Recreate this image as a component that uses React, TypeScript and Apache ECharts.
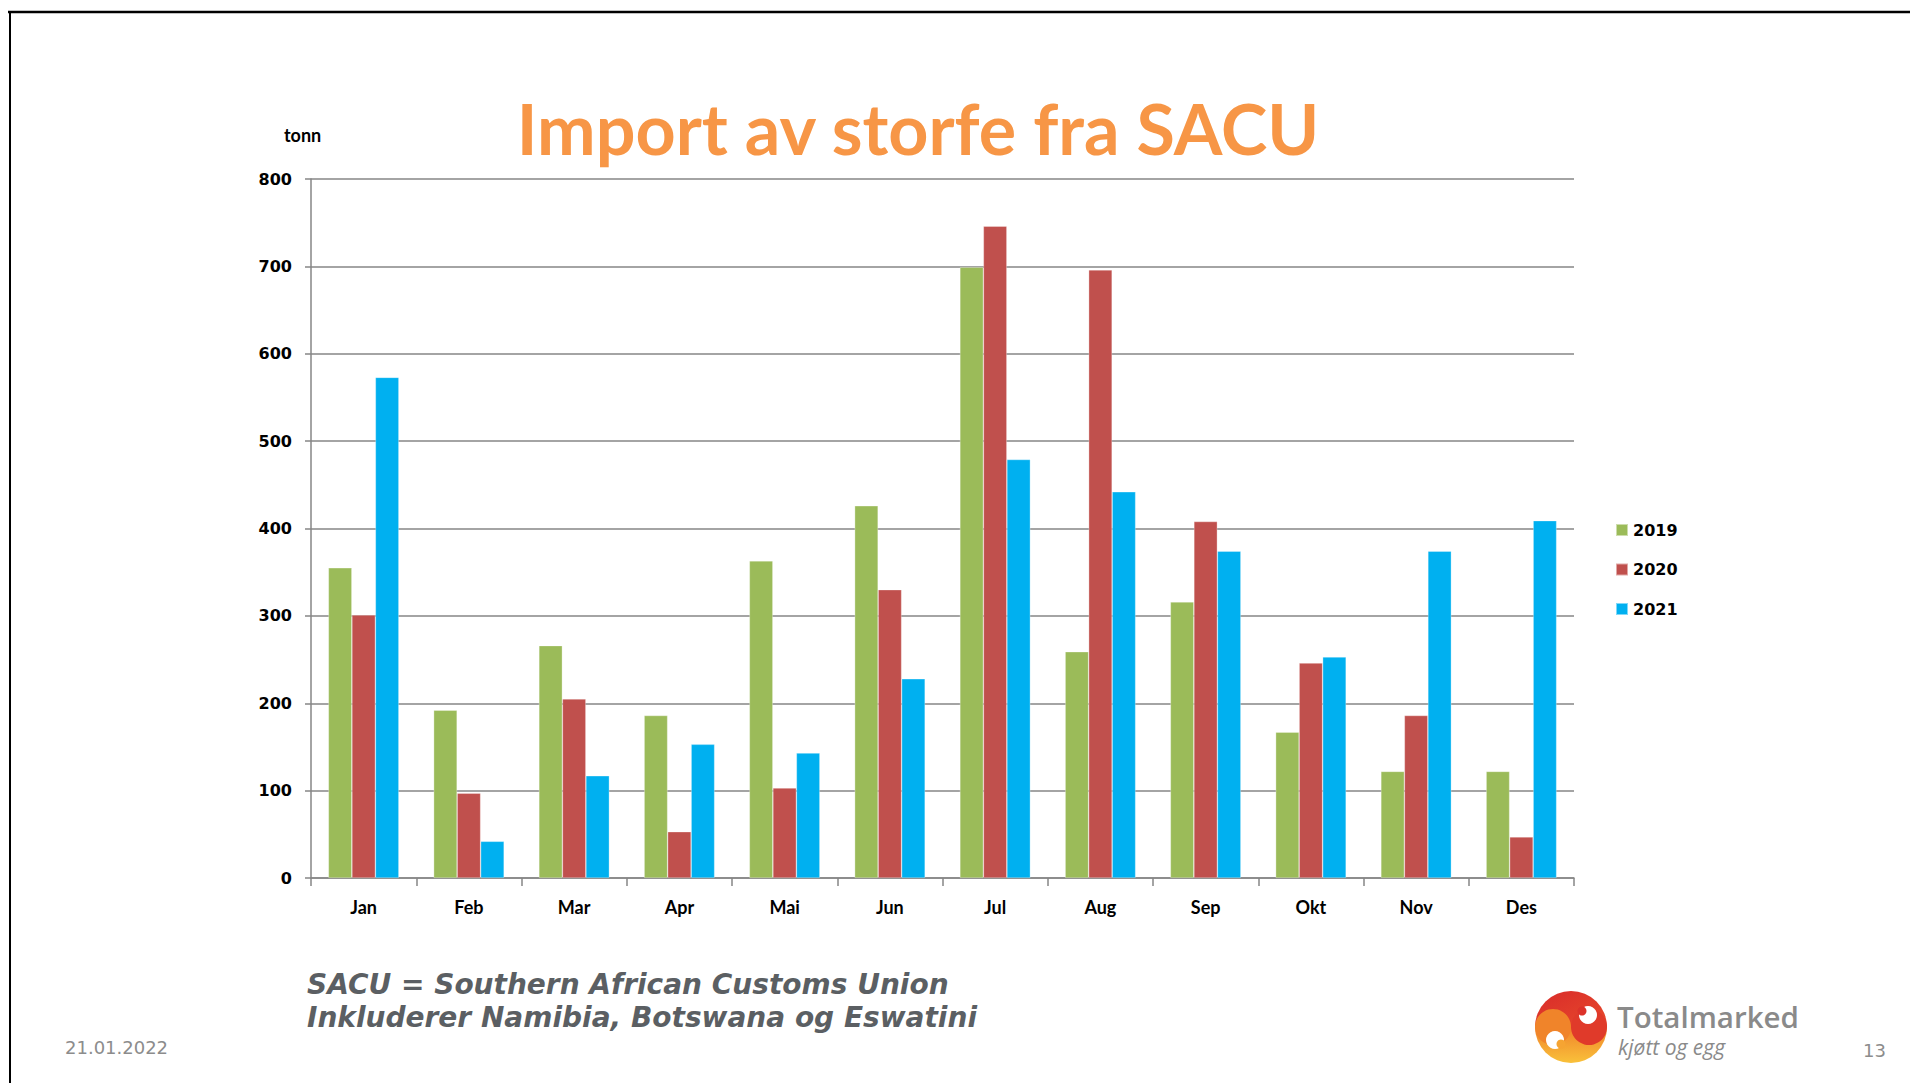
import React, { useEffect, useRef } from "react";
import * as echarts from "echarts";

const categories = ["Jan", "Feb", "Mar", "Apr", "Mai", "Jun", "Jul", "Aug", "Sep", "Okt", "Nov", "Des"];
const s2019 = [355, 192, 266, 186, 363, 426, 699, 259, 316, 167, 122, 122];
const s2020 = [301, 97, 205, 53, 103, 330, 746, 696, 408, 246, 186, 47];
const s2021 = [573, 42, 117, 153, 143, 228, 479, 442, 374, 253, 374, 409];
const seriesNames = ["2019", "2020", "2021"];
const colors = ["#9BBB59", "#C0504D", "#00B0F0"];
const yTicks = { min: 0, max: 800, interval: 100 };

export default function App() {
  const ref = useRef<HTMLDivElement>(null);
  useEffect(() => {
    if (!ref.current) return;
    const chart = echarts.init(ref.current, null, { renderer: "svg" });
    const cx = 1571, cy = 1027, R = 36;
    const option: any = {
      animation: false,
      backgroundColor: "#ffffff",
      grid: { left: 311, right: 336, top: 179, bottom: 205, containLabel: false },
      legend: {
        orient: "vertical",
        left: 1615,
        top: 522,
        padding: 0,
        icon: "rect",
        itemWidth: 12,
        itemHeight: 12,
        itemGap: 23.5,
        data: seriesNames,
        textStyle: { fontFamily: "DejaVu Sans", fontWeight: "bold", fontSize: 16, color: "#000" },
      },
      xAxis: {
        type: "category",
        data: categories,
        axisLine: { lineStyle: { color: "#868686", width: 1.5 } },
        axisTick: { show: true, length: 8, lineStyle: { color: "#868686", width: 1.5 } },
        axisLabel: { fontFamily: "Lato", fontWeight: "bold", fontSize: 18, color: "#000", margin: 20 },
      },
      yAxis: {
        type: "value",
        min: yTicks.min,
        max: yTicks.max,
        interval: yTicks.interval,
        axisLine: { show: true, lineStyle: { color: "#868686", width: 1.5 } },
        axisTick: { show: true, length: 6, lineStyle: { color: "#868686", width: 1.5 } },
        splitLine: { lineStyle: { color: "#868686", width: 1.5 } },
        axisLabel: { fontFamily: "DejaVu Sans", fontWeight: "bold", fontSize: 16, color: "#000", margin: 19 },
      },
      series: [s2019, s2020, s2021].map((d, i) => ({
        name: seriesNames[i],
        type: "bar",
        data: d,
        barGap: "0%",
        barCategoryGap: "33%",
        itemStyle: { color: colors[i], borderColor: "rgba(255,255,255,0.5)", borderWidth: 0.6 },
      })),
      graphic: [
        { type: "line", shape: { x1: 8, y1: 12, x2: 1910, y2: 12 }, style: { stroke: "#000", lineWidth: 2.5 } },
        { type: "line", shape: { x1: 10, y1: 11, x2: 10, y2: 1083 }, style: { stroke: "#000", lineWidth: 2 } },
        {
          type: "text", x: 918, y: 128,
          style: { text: "Import av storfe fra SACU", fill: "#F79646", font: "bold 70px Lato", textAlign: "center", textVerticalAlign: "middle" },
        },
        {
          type: "text", x: 284, y: 135,
          style: { text: "tonn", fill: "#000", font: "bold 18px Lato", textAlign: "left", textVerticalAlign: "middle" },
        },
        {
          type: "text", x: 307, y: 984,
          style: { text: "SACU = Southern African Customs Union", fill: "#5B5F63", font: "italic bold 28px 'DejaVu Sans'", textAlign: "left", textVerticalAlign: "middle" },
        },
        {
          type: "text", x: 307, y: 1017,
          style: { text: "Inkluderer Namibia, Botswana og Eswatini", fill: "#5B5F63", font: "italic bold 28px 'DejaVu Sans'", textAlign: "left", textVerticalAlign: "middle" },
        },
        {
          type: "text", x: 65, y: 1047,
          style: { text: "21.01.2022", fill: "#8C8C8C", font: "18px 'DejaVu Sans'", textAlign: "left", textVerticalAlign: "middle" },
        },
        {
          type: "text", x: 1886, y: 1050,
          style: { text: "13", fill: "#8C8C8C", font: "18px 'DejaVu Sans'", textAlign: "right", textVerticalAlign: "middle" },
        },
        // logo
        {
          type: "sector", shape: { cx, cy, r: R, startAngle: Math.PI, endAngle: 2 * Math.PI },
          style: { fill: new echarts.graphic.LinearGradient(0, 0, 1, 1, [{ offset: 0, color: "#D82B2A" }, { offset: 1, color: "#E84A2B" }]) },
        },
        {
          type: "sector", shape: { cx, cy, r: R, startAngle: 0, endAngle: Math.PI },
          style: { fill: new echarts.graphic.LinearGradient(0, 0, 0, 1, [{ offset: 0, color: "#F0822A" }, { offset: 1, color: "#F9C13A" }]) },
        },
        { type: "circle", shape: { cx: cx - R / 2, cy, r: R / 2 }, style: { fill: "#F0842A" } },
        { type: "circle", shape: { cx: cx + R / 2, cy, r: R / 2 }, style: { fill: "#E03A2A" } },
        { type: "circle", shape: { cx: cx + 17, cy: cy - 12, r: 9 }, style: { fill: "#fff" } },
        { type: "circle", shape: { cx: cx + 11, cy: cy - 16, r: 4.5 }, style: { fill: "#DC322A" } },
        { type: "circle", shape: { cx: cx - 16, cy: cy + 13, r: 9 }, style: { fill: "#fff" } },
        { type: "circle", shape: { cx: cx - 10, cy: cy + 17, r: 4.5 }, style: { fill: "#F6A432" } },
        {
          type: "text", x: 1617, y: 1016,
          style: { text: "Totalmarked", fill: "#8A8A8A", font: "600 29.5px 'Open Sans'", textAlign: "left", textVerticalAlign: "middle" },
        },
        {
          type: "text", x: 1618, y: 1047,
          style: { text: "kjøtt og egg", fill: "#8A8A8A", font: "italic 21px 'Open Sans'", textAlign: "left", textVerticalAlign: "middle" },
        },
      ],
    };
    chart.setOption(option);
    return () => chart.dispose();
  }, []);
  return <div ref={ref} style={{ position: "absolute", left: 0, top: 0, width: 1910, height: 1083 }} />;
}
